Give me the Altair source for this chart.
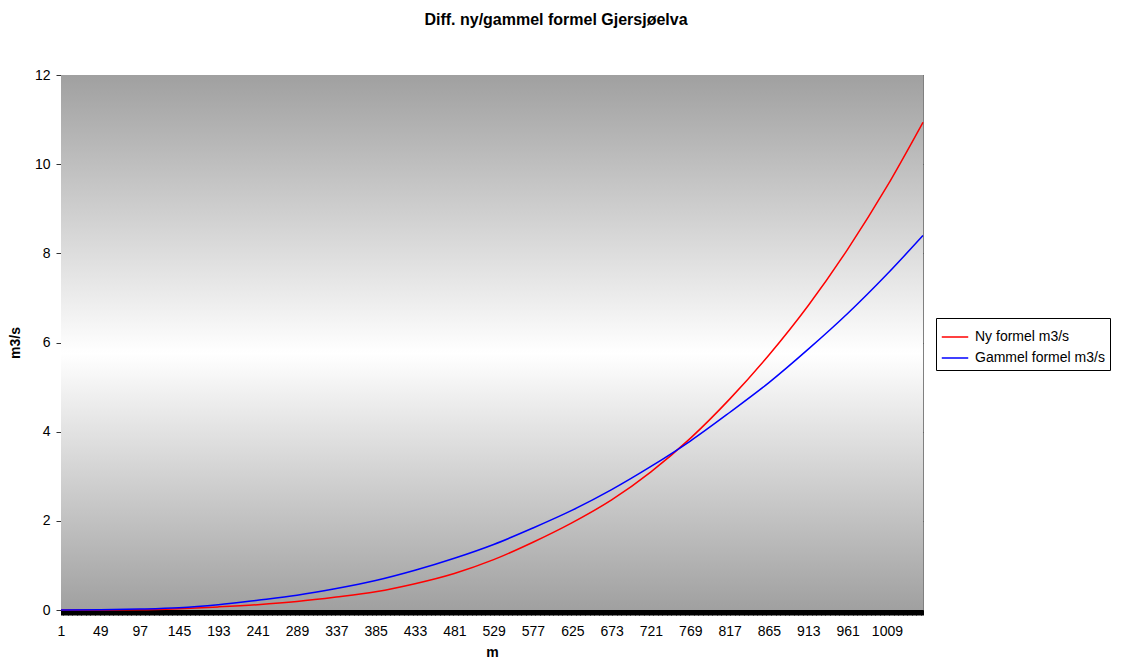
import altair as alt
import pandas as pd

# ---- data ----
CATEGORIES = [1, 49, 97, 145, 193, 241, 289, 337, 385, 433, 481, 529, 577, 625,
              673, 721, 769, 817, 865, 913, 961, 1009, 1053]
NY = [0.0, 0.0, 0.005, 0.03, 0.07, 0.12, 0.19, 0.29, 0.41, 0.59, 0.82, 1.13,
      1.52, 1.96, 2.47, 3.10, 3.85, 4.73, 5.72, 6.83, 8.09, 9.50, 10.94]
GAMMEL = [0.0, 0.005, 0.02, 0.05, 0.12, 0.22, 0.33, 0.48, 0.66, 0.89, 1.16, 1.47,
          1.84, 2.24, 2.70, 3.22, 3.79, 4.43, 5.10, 5.85, 6.65, 7.53, 8.40]
SERIES = ["Ny formel  m3/s", "Gammel formel m3/s"]
COLORS = ["#ff0000", "#0000ff"]
Y_TICKS = [0, 2, 4, 6, 8, 10, 12]
FIRST_CAT = 1
LAST_CAT = 1053
LABEL_STEP = 48
TITLE = "Diff. ny/gammel formel Gjersjøelva"

FONT = "Liberation Sans"

rows = []
for s, vals in zip(SERIES, [NY, GAMMEL]):
    for c, v in zip(CATEGORIES, vals):
        rows.append({"serie": s, "m": c, "q": v})
df = pd.DataFrame(rows)

bg_df = pd.DataFrame({"m0": [FIRST_CAT], "m1": [LAST_CAT],
                      "q0": [Y_TICKS[0]], "q1": [Y_TICKS[-1]]})

xscale = alt.Scale(domain=[FIRST_CAT, LAST_CAT], nice=False, zero=False)
yscale = alt.Scale(domain=[Y_TICKS[0], Y_TICKS[-1]], nice=False)

x_axis = alt.Axis(
    values=list(range(FIRST_CAT, LAST_CAT + 1)),
    labelExpr=f"(datum.value - {FIRST_CAT}) % {LABEL_STEP} == 0 ? format(datum.value, 'd') : ''",
    labelOverlap=False, labelFlush=False, labelAngle=0,
    tickSize=5, tickColor="black", tickWidth=1,
    domainColor="black", domainWidth=1,
    labelPadding=9, labelFontSize=14, labelColor="black", labelFont=FONT,
    title="m", titleFont=FONT, titleFontSize=14, titleFontWeight="bold",
    titleColor="black", titlePadding=7, grid=False,
)
y_axis = alt.Axis(
    values=Y_TICKS, format="d", grid=True, gridColor="#4a4a4a", gridWidth=1,
    tickSize=5, tickColor="#333333", domainColor="#333333",
    labelPadding=6, labelFontSize=14, labelColor="black", labelFont=FONT,
    title="m3/s", titleFont=FONT, titleFontSize=14, titleFontWeight="bold",
    titleColor="black", titlePadding=12,
)

gradient = {
    "gradient": "linear", "x1": 0, "y1": 0, "x2": 0, "y2": 1,
    "stops": [
        {"offset": 0, "color": "#a0a0a0"},
        {"offset": 0.52, "color": "#ffffff"},
        {"offset": 1, "color": "#a0a0a0"},
    ],
}

bg = alt.Chart(bg_df).mark_rect(fill=gradient).encode(
    x=alt.X("m0:Q", scale=xscale, axis=x_axis),
    x2="m1:Q",
    y=alt.Y("q0:Q", scale=yscale, axis=y_axis),
    y2="q1:Q",
)

lines = alt.Chart(df).mark_line(strokeWidth=1.5, interpolate="monotone").encode(
    x=alt.X("m:Q", scale=xscale, axis=x_axis),
    y=alt.Y("q:Q", scale=yscale, axis=y_axis),
    color=alt.Color(
        "serie:N",
        scale=alt.Scale(domain=SERIES, range=COLORS),
        legend=alt.Legend(
            title=None, orient="none", legendX=875, legendY=243,
            strokeColor="black", fillColor="white", padding=5,
            symbolType="stroke", symbolSize=700, symbolStrokeWidth=1.5,
            labelFontSize=14, labelFont=FONT, labelColor="black",
            labelOffset=6, rowPadding=0,
        ),
    ),
    detail="serie:N",
)

chart = alt.layer(bg, lines).properties(
    width=862, height=535,
    title=alt.TitleParams(TITLE, font=FONT, fontSize=16, fontWeight="bold",
                          color="black", anchor="middle", dx=64, offset=40),
    autosize=alt.AutoSizeParams(type="none"),
    padding={"left": 53, "top": 67, "right": 188, "bottom": 50},
).configure_view(stroke="#808080", strokeWidth=1)

chart.save("out.html", embed_options={"renderer": "svg", "actions": False})
